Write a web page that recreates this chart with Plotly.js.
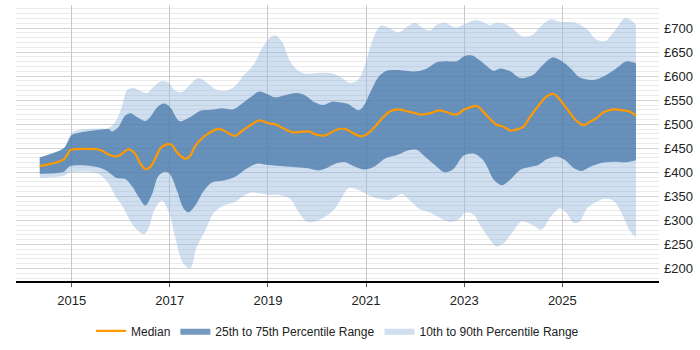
<!DOCTYPE html>
<html>
<head>
<meta charset="utf-8">
<script src="https://cdn.plot.ly/plotly-3.0.1.min.js"></script>
<style>
  html, body { margin: 0; padding: 0; background: #fff; }
  #chart { width: 700px; height: 350px; }
</style>
</head>
<body>
<div id="chart"></div>
<script>
// Daily rate percentiles over time (decimal years, £ per day)

const medianYears = [2014.35, 2014.84, 2014.97, 2015.04, 2015.52, 2015.62, 2015.75, 2015.92, 2016.03, 2016.13,
  2016.20, 2016.30, 2016.40, 2016.50, 2016.60, 2016.70, 2016.81, 2016.94, 2017.04, 2017.15,
  2017.32, 2017.42, 2017.52, 2017.66, 2017.79, 2017.96, 2018.06, 2018.20, 2018.33, 2018.47,
  2018.64, 2018.82, 2018.91, 2019.01, 2019.15, 2019.32, 2019.52, 2019.66, 2019.83, 2020.00,
  2020.17, 2020.41, 2020.58, 2020.71, 2020.88, 2020.98, 2021.12, 2021.29, 2021.49, 2021.66,
  2021.83, 2022.00, 2022.14, 2022.31, 2022.48, 2022.65, 2022.84, 2022.99, 2023.12, 2023.26,
  2023.46, 2023.66, 2023.80, 2023.94, 2024.07, 2024.21, 2024.34, 2024.51, 2024.68, 2024.83,
  2024.95, 2025.09, 2025.26, 2025.43, 2025.56, 2025.70, 2025.84, 2026.04, 2026.24, 2026.38, 2026.50];
const medianRate = [413, 427, 446, 448, 448, 445, 437, 433, 439, 447,
  447, 438, 418, 407, 411, 428, 450, 458, 457, 441,
  428, 435, 455, 471, 481, 490, 489, 481, 476, 486,
  498, 508, 506, 502, 500, 491, 483, 484, 485, 478,
  477, 489, 490, 483, 475, 477, 488, 508, 527, 531,
  527, 523, 520, 523, 529, 525, 520, 530, 535, 538,
  518, 499, 495, 487, 489, 495, 515, 538, 558, 563,
  551, 533, 510, 498, 505, 513, 525, 531, 529, 526, 518];

const p75Years = [2014.35, 2014.84, 2014.91, 2015.01, 2015.18, 2015.52, 2015.75, 2015.82, 2015.96, 2016.09,
  2016.20, 2016.33, 2016.50, 2016.60, 2016.74, 2016.88, 2017.01, 2017.15, 2017.21, 2017.42,
  2017.62, 2017.83, 2018.03, 2018.30, 2018.50, 2018.67, 2018.82, 2018.98, 2019.15, 2019.32,
  2019.59, 2019.76, 2019.96, 2020.13, 2020.30, 2020.44, 2020.61, 2020.74, 2020.85, 2020.95,
  2021.08, 2021.25, 2021.42, 2021.63, 2022.03, 2022.24, 2022.44, 2022.65, 2022.85, 2022.99,
  2023.16, 2023.29, 2023.46, 2023.60, 2023.73, 2023.94, 2024.14, 2024.41, 2024.58, 2024.80,
  2024.99, 2025.16, 2025.36, 2025.63, 2025.87, 2026.11, 2026.31, 2026.50];
const p75Rate = [431, 450, 461, 478, 483, 488, 490, 485, 495, 518,
  523, 515, 507, 515, 535, 543, 535, 511, 506, 515,
  528, 530, 533, 531, 545, 558, 568, 563, 556, 560,
  565, 560, 545, 540, 547, 546, 543, 535, 529, 538,
  565, 598, 611, 613, 610, 616, 629, 631, 631, 641,
  643, 635, 621, 611, 616, 610, 596, 603, 621, 639,
  631, 617, 597, 592, 601, 617, 631, 627];

const p25Years = [2014.35, 2014.84, 2014.97, 2015.52, 2015.72, 2015.92, 2016.09, 2016.23, 2016.37, 2016.50,
  2016.64, 2016.77, 2016.91, 2017.01, 2017.15, 2017.28, 2017.38, 2017.52, 2017.69, 2017.86,
  2018.10, 2018.33, 2018.57, 2018.78, 2019.01, 2019.25, 2019.52, 2019.79, 2020.03, 2020.20,
  2020.37, 2020.58, 2020.74, 2020.95, 2021.15, 2021.39, 2021.63, 2021.86, 2022.03, 2022.20,
  2022.37, 2022.61, 2022.78, 2022.99, 2023.19, 2023.36, 2023.46, 2023.60, 2023.77, 2023.94,
  2024.14, 2024.34, 2024.51, 2024.68, 2024.89, 2025.06, 2025.23, 2025.40, 2025.56, 2025.77,
  2026.04, 2026.31, 2026.50];
const p25Rate = [397, 401, 413, 411, 403, 388, 386, 371, 348, 331,
  355, 393, 401, 395, 361, 325, 317, 331, 361, 379,
  383, 391, 408, 418, 415, 413, 411, 409, 404, 409,
  418, 421, 413, 406, 411, 429, 436, 446, 447, 433,
  418, 400, 407, 435, 439, 428, 413, 385, 373, 385,
  405, 411, 415, 427, 433, 425, 409, 403, 411, 419,
  422, 421, 425];

const p90Years = [2014.35, 2014.84, 2015.01, 2015.52, 2015.75, 2015.89, 2016.03, 2016.13, 2016.26, 2016.40,
  2016.54, 2016.67, 2016.84, 2016.98, 2017.11, 2017.25, 2017.38, 2017.59, 2017.76, 2017.93,
  2018.10, 2018.30, 2018.50, 2018.71, 2018.88, 2019.03, 2019.15, 2019.29, 2019.45, 2019.62,
  2019.79, 2020.07, 2020.30, 2020.47, 2020.68, 2020.85, 2020.98, 2021.12, 2021.29, 2021.46,
  2021.66, 2021.83, 2022.00, 2022.17, 2022.31, 2022.44, 2022.61, 2022.82, 2023.02, 2023.19,
  2023.32, 2023.53, 2023.66, 2023.83, 2024.00, 2024.17, 2024.38, 2024.55, 2024.75, 2024.95,
  2025.26, 2025.50, 2025.67, 2025.87, 2026.07, 2026.28, 2026.41, 2026.50];
const p90Rate = [431, 450, 483, 491, 492, 505, 538, 571, 576, 569,
  565, 578, 590, 586, 570, 567, 579, 596, 586, 573,
  569, 577, 601, 624, 658, 679, 685, 671, 631, 611,
  605, 607, 606, 599, 586, 594, 624, 671, 705, 701,
  691, 702, 711, 699, 695, 707, 711, 701, 709, 716,
  715, 706, 711, 709, 698, 683, 685, 703, 718, 713,
  711, 698, 678, 673, 695, 721, 716, 707];

const p10Years = [2014.35, 2014.84, 2014.97, 2015.52, 2015.72, 2015.89, 2016.03, 2016.20, 2016.33, 2016.47,
  2016.57, 2016.70, 2016.84, 2016.98, 2017.11, 2017.21, 2017.32, 2017.42, 2017.55, 2017.72,
  2017.89, 2018.10, 2018.30, 2018.50, 2018.67, 2018.84, 2019.05, 2019.25, 2019.45, 2019.62,
  2019.79, 2020.00, 2020.20, 2020.37, 2020.47, 2020.64, 2020.81, 2020.95, 2021.22, 2021.49,
  2021.73, 2021.90, 2022.10, 2022.31, 2022.51, 2022.71, 2022.88, 2023.02, 2023.19, 2023.32,
  2023.49, 2023.66, 2023.83, 2024.00, 2024.17, 2024.38, 2024.58, 2024.75, 2024.95, 2025.09,
  2025.23, 2025.36, 2025.50, 2025.70, 2025.87, 2026.04, 2026.21, 2026.38, 2026.50];
const p10Rate = [388, 393, 399, 398, 381, 351, 331, 298, 281, 271,
  285, 325, 341, 318, 265, 225, 205, 201, 245, 278,
  315, 331, 337, 351, 358, 356, 353, 353, 345, 318,
  298, 299, 310, 325, 341, 367, 365, 358, 346, 343,
  355, 341, 323, 316, 305, 297, 302, 316, 312, 291,
  265, 246, 255, 278, 298, 291, 281, 306, 325, 315,
  295, 298, 325, 339, 345, 341, 315, 278, 265];

const yearTicks = [2015, 2017, 2019, 2021, 2023, 2025];

const lightFill = 'rgba(150,185,220,0.45)';
const darkFill = 'rgba(62,113,165,0.72)';
const medianColor = '#ff9900';
const smooth = 0.9;

const traces = [
  { x: p10Years, y: p10Rate, type: 'scatter', mode: 'lines',
    line: { width: 0, shape: 'spline', smoothing: smooth },
    showlegend: false, hoverinfo: 'skip' },
  { x: p90Years, y: p90Rate, type: 'scatter', mode: 'lines', fill: 'tonexty',
    fillcolor: lightFill, line: { width: 0, shape: 'spline', smoothing: smooth },
    name: '10th to 90th Percentile Range', legendrank: 3, hoverinfo: 'skip' },
  { x: p25Years, y: p25Rate, type: 'scatter', mode: 'lines',
    line: { width: 0, shape: 'spline', smoothing: smooth },
    showlegend: false, hoverinfo: 'skip' },
  { x: p75Years, y: p75Rate, type: 'scatter', mode: 'lines', fill: 'tonexty',
    fillcolor: darkFill, line: { width: 0, shape: 'spline', smoothing: smooth },
    name: '25th to 75th Percentile Range', legendrank: 2, hoverinfo: 'skip' },
  { x: medianYears, y: medianRate, type: 'scatter', mode: 'lines',
    line: { color: medianColor, width: 2.2, shape: 'spline', smoothing: smooth },
    name: 'Median', legendrank: 1, hoverinfo: 'skip' }
];

const layout = {
  width: 700, height: 350,
  margin: { l: 16, r: 41, t: 5, b: 58 },
  paper_bgcolor: '#ffffff', plot_bgcolor: '#ffffff',
  font: { family: 'Liberation Sans, Arial, sans-serif', size: 12, color: '#222' },
  showlegend: true,
  legend: {
    orientation: 'h', x: 0.5, xanchor: 'center', y: -0.128, yanchor: 'top',
    font: { size: 12, color: '#222' }, traceorder: 'normal', itemwidth: 30
  },
  xaxis: {
    range: [2013.866, 2026.97],
    tickvals: yearTicks, ticktext: yearTicks.map(String),
    showgrid: true, gridcolor: '#c8c8c8', gridwidth: 1,
    showline: true, linecolor: '#000', linewidth: 1.5,
    ticks: 'outside', ticklen: 4, tickcolor: '#555', ticklabelstandoff: 3,
    zeroline: false, fixedrange: true,
    tickfont: { size: 13, color: '#222' }
  },
  yaxis: {
    side: 'right', range: [174, 748],
    tick0: 0, dtick: 50, tickprefix: '£',
    showgrid: true, gridcolor: '#d2d2d2', gridwidth: 1,
    minor: { dtick: 10, tick0: 0, showgrid: true, gridcolor: '#ebebeb', gridwidth: 1 },
    showline: false, zeroline: false, ticks: '', fixedrange: true,
    ticklabelstandoff: 4,
    tickfont: { size: 13, color: '#222' }
  }
};

Plotly.newPlot('chart', traces, layout, { displayModeBar: false, staticPlot: true });
</script>
</body>
</html>
